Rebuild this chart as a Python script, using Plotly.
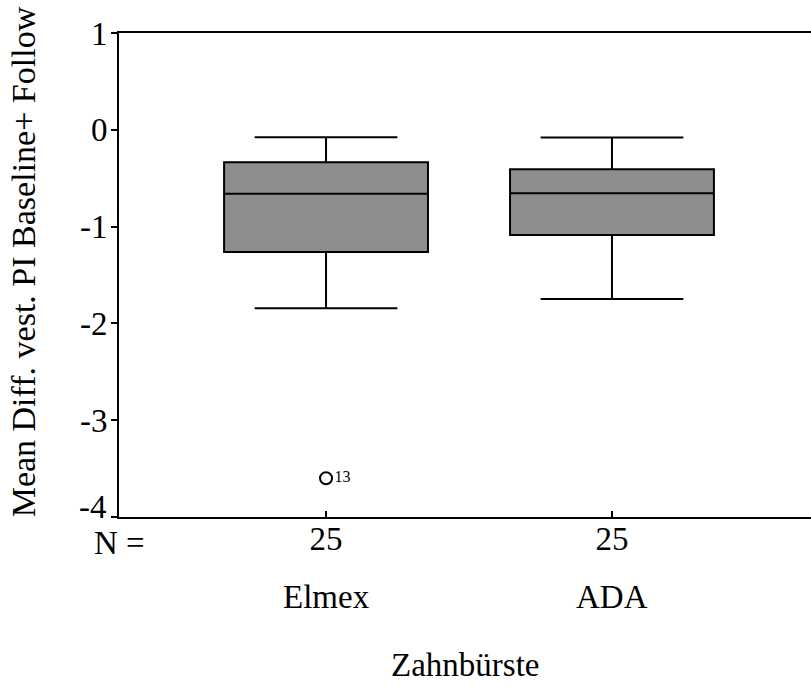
import plotly.graph_objects as go

categories = ["Elmex", "ADA"]
n_counts = [25, 25]
upper_whisker = [-0.078, -0.080]
q3_vals = [-0.336, -0.408]
medians = [-0.660, -0.656]
q1_vals = [-1.262, -1.087]
lower_whisker = [-1.844, -1.748]
outlier_values = [-3.60]
outlier_groups = [0]
outlier_labels = ["13"]
y_ticks = [1, 0, -1, -2, -3, -4]

xpos = list(range(len(categories)))
FONT = "Liberation Serif, Times New Roman, serif"
FS = 33

fig = go.Figure()
fig.add_trace(go.Box(
    x=xpos,
    q1=q1_vals, median=medians, q3=q3_vals,
    lowerfence=lower_whisker, upperfence=upper_whisker,
    width=0.713, whiskerwidth=0.7,
    fillcolor="#8e8e8e", line=dict(color="black", width=2),
    boxpoints=False, showlegend=False, hoverinfo="skip",
))
fig.add_trace(go.Scatter(
    x=[xpos[g] for g in outlier_groups], y=outlier_values,
    mode="markers+text", text=outlier_labels, textposition="middle right",
    textfont=dict(family=FONT, size=16, color="black"),
    marker=dict(symbol="circle-open", size=12, color="black", line=dict(width=2)),
    showlegend=False, hoverinfo="skip", cliponaxis=False,
))

for i, c in enumerate(categories):
    fig.add_annotation(x=xpos[i], xref="x", y=-0.165, yref="paper",
                       text=c, showarrow=False, yanchor="middle",
                       font=dict(family=FONT, size=FS, color="black"))
fig.add_annotation(x=0, xref="paper", y=-0.053, yref="paper", text="N =",
                   showarrow=False, yanchor="middle", xanchor="center",
                   font=dict(family=FONT, size=FS, color="black"))
fig.add_annotation(x=0.5, xref="paper", y=-0.306, yref="paper", text="Zahnbürste",
                   showarrow=False, yanchor="middle", xanchor="center",
                   font=dict(family=FONT, size=FS, color="black"))
fig.add_annotation(x=-0.1375, xref="paper", y=0, yref="paper", yshift=-2,
                   text="Mean Diff. vest. PI Baseline+ Follow", textangle=-90,
                   showarrow=False, yanchor="bottom", xanchor="center",
                   font=dict(family=FONT, size=34, color="black"))
# lowest y tick label sits slightly raised (as in the reference) to clear "N ="
fig.add_annotation(x=0, xref="paper", y=y_ticks[-1], yref="y", xshift=-10, yshift=10,
                   text=str(y_ticks[-1]), showarrow=False, xanchor="right",
                   yanchor="middle", font=dict(family=FONT, size=FS, color="black"))

fig.update_layout(
    width=811, height=692,
    margin=dict(l=119, r=0, t=33, b=175),
    paper_bgcolor="white", plot_bgcolor="white",
    font=dict(family=FONT, size=FS, color="black"),
    xaxis=dict(
        range=[-0.724, 1.696], tickvals=xpos, ticktext=[str(n) for n in n_counts],
        ticks="inside", ticklen=6, tickwidth=1.5, tickcolor="black",
        showline=True, linecolor="black", linewidth=2, mirror=True,
        showgrid=False, zeroline=False, ticklabelstandoff=-9,
        tickfont=dict(family=FONT, size=FS),
    ),
    yaxis=dict(
        range=[-4.0, 1.0], tickvals=y_ticks,
        ticktext=[str(v) for v in y_ticks[:-1]] + [""],
        ticks="outside", ticklen=6, tickwidth=1.5, tickcolor="black",
        showline=True, linecolor="black", linewidth=2, mirror=False,
        showgrid=False, zeroline=False, ticklabelstandoff=-3,
        tickfont=dict(family=FONT, size=FS),
    ),
)
fig.write_html("out.html")
